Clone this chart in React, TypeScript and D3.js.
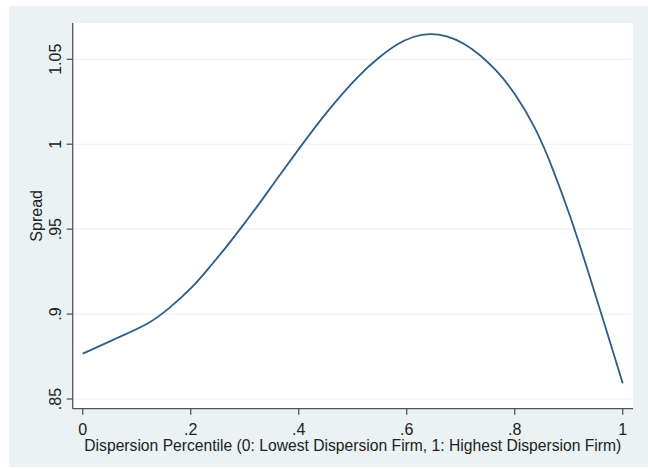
import React from "react";
import * as d3 from "d3";

const xValues = [0, 0.0691, 0.1246, 0.1585, 0.2048, 0.2357, 0.2667, 0.2974, 0.3283, 0.3593, 0.4024, 0.4519, 0.5135, 0.5506, 0.5815, 0.6122, 0.6431, 0.6741, 0.7048, 0.7357, 0.7667, 0.7974, 0.8407, 0.8715, 0.9024, 0.9333, 0.9641, 1.0];
const spreadValues = [0.8767, 0.8867, 0.8946, 0.9028, 0.9161, 0.9279, 0.9397, 0.9525, 0.9654, 0.9795, 0.9982, 1.0193, 1.0416, 1.0516, 1.0590, 1.0636, 1.0654, 1.0640, 1.0598, 1.0528, 1.0434, 1.0316, 1.0090, 0.9849, 0.9584, 0.9279, 0.8965, 0.8592];
const xTicks = [0, 0.2, 0.4, 0.6, 0.8, 1];
const xTickLabels = ["0", ".2", ".4", ".6", ".8", "1"];
const yTicks = [0.85, 0.9, 0.95, 1, 1.05];
const yTickLabels = [".85", ".9", ".95", "1", "1.05"];
const xTitle = "Dispersion Percentile (0: Lowest Dispersion Firm, 1: Highest Dispersion Firm)";
const yTitle = "Spread";

const W = 648;
const H = 469;
const plotL = 72.7;
const plotR = 633;
const plotT = 23;
const plotB = 408.7;

export default function App() {
  const x = d3.scaleLinear().domain([0, 1]).range([82.7, 622.7]);
  const y = d3.scaleLinear().domain([0.85, 1.05]).range([399, 59.3]);
  const pts: [number, number][] = xValues.map((v, i) => [v, spreadValues[i]]);
  const line = d3
    .line<[number, number]>()
    .x((d) => x(d[0]))
    .y((d) => y(d[1]))
    .curve(d3.curveBasis);
  const font = "'Liberation Sans', Arial, sans-serif";
  const axisColor = "#555555";
  return (
    <svg width={W} height={H} style={{ position: "absolute", left: 0, top: 0 }} fontFamily={font}>
      <rect x={0} y={0} width={W} height={H} fill="#ffffff" />
      <rect x={9} y={6} width={W - 9} height={461} fill="#eaf2f3" />
      <rect x={plotL} y={plotT} width={plotR - plotL} height={plotB - plotT} fill="#ffffff" />
      {yTicks.map((t) => (
        <line key={"g" + t} x1={plotL} x2={plotR} y1={y(t)} y2={y(t)} stroke="#eaf2f3" strokeWidth={1.2} />
      ))}
      <path d={line(pts) || ""} fill="none" stroke="#2d5d8c" strokeWidth={1.8} />
      <line x1={plotL} x2={plotL} y1={plotT} y2={plotB} stroke={axisColor} strokeWidth={1.3} />
      <line x1={plotL} x2={plotR} y1={plotB} y2={plotB} stroke={axisColor} strokeWidth={1.3} />
      {yTicks.map((t, i) => (
        <g key={"y" + t}>
          <line x1={plotL - 6} x2={plotL} y1={y(t)} y2={y(t)} stroke={axisColor} strokeWidth={1.3} />
          <text
            transform={`translate(61, ${y(t)}) rotate(-90)`}
            textAnchor="middle"
            fontSize={16}
            fill="#222"
          >
            {yTickLabels[i]}
          </text>
        </g>
      ))}
      {xTicks.map((t, i) => (
        <g key={"x" + t}>
          <line x1={x(t)} x2={x(t)} y1={plotB} y2={plotB + 6} stroke={axisColor} strokeWidth={1.3} />
          <text x={x(t)} y={434.5} textAnchor="middle" fontSize={16} fill="#222">
            {xTickLabels[i]}
          </text>
        </g>
      ))}
      <text
        x={84.3}
        y={450.5}
        fontSize={16}
        fill="#222"
        textLength={537}
        lengthAdjust="spacingAndGlyphs"
      >
        {xTitle}
      </text>
      <text transform={`translate(41.5, ${(plotT + plotB) / 2}) rotate(-90)`} textAnchor="middle" fontSize={16} fill="#222">
        {yTitle}
      </text>
    </svg>
  );
}
